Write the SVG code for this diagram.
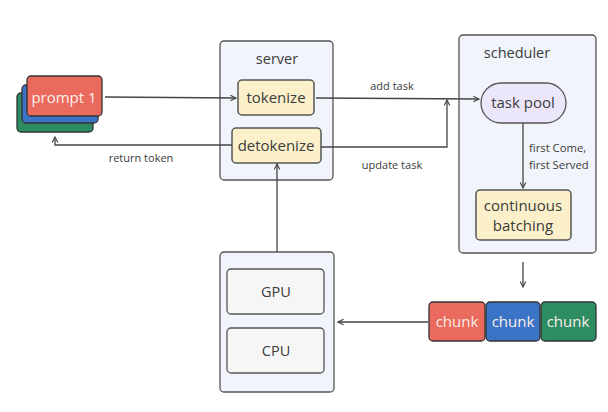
<svg xmlns="http://www.w3.org/2000/svg" width="608" height="412" viewBox="0 0 608 412">
<defs>
<marker id="arr" viewBox="0 0 10 10" refX="9" refY="5" markerWidth="7" markerHeight="7" orient="auto-start-reverse" markerUnits="userSpaceOnUse">
<path d="M1,1 L9,5 L1,9" fill="none" stroke="#444" stroke-width="1.6"/>
</marker>
<style>
text{font-family:"Open Sans","Noto Sans","Liberation Sans",sans-serif;fill:#3c3c3c}
.cont{fill:#f1f4fa;stroke:#555;stroke-width:1.3}
.yel{fill:#fbf0c9;stroke:#555;stroke-width:1.5}
.gray{fill:#f6f6f6;stroke:#555;stroke-width:1.3}
.lbl{font-size:14.5px;text-anchor:middle}
.small{font-size:11px;text-anchor:middle}
.node{font-size:15px;text-anchor:middle}
.white{fill:#fbeee8}
.line{fill:none;stroke:#444;stroke-width:1.3}
</style>
</defs>
<rect width="608" height="412" fill="#ffffff"/>
<g id="prompt">
<rect x="17" y="93" width="76" height="39" rx="4" fill="#2e8c62" stroke="#333" stroke-width="1.3"/>
<rect x="22" y="85" width="76" height="38" rx="4" fill="#3b74c6" stroke="#333" stroke-width="1.3"/>
<rect x="27" y="76" width="75" height="40" rx="4" fill="#ea6a5e" stroke="#333" stroke-width="1.3"/>
<text class="node white" x="64" y="103">prompt 1</text>
</g>
<g id="server">
<rect class="cont" x="220" y="41" width="113" height="139" rx="4"/>
<text class="lbl" x="277" y="64">server</text>
</g>
<g id="tokenize">
<rect class="yel" x="238" y="80" width="76" height="35" rx="4"/>
<text class="node" x="276" y="103">tokenize</text>
</g>
<g id="detokenize">
<rect class="yel" x="232" y="128" width="89" height="35" rx="4"/>
<text class="node" x="276" y="151">detokenize</text>
</g>
<g id="scheduler">
<rect class="cont" x="459" y="35" width="137" height="218" rx="4"/>
<text class="lbl" x="517" y="58">scheduler</text>
</g>
<g id="taskpool">
<rect x="481" y="83" width="85" height="40" rx="20" fill="#ece6fb" stroke="#555" stroke-width="1.3"/>
<text class="node" x="523" y="108">task pool</text>
</g>
<g id="batching">
<rect class="yel" x="476" y="190" width="95" height="50" rx="4"/>
<text class="node" x="523" y="211">continuous</text>
<text class="node" x="523" y="231">batching</text>
</g>
<g id="chunks">
<rect x="429" y="302" width="56" height="39" rx="4" fill="#ea6a5e" stroke="#333" stroke-width="1.3"/>
<rect x="486" y="302" width="54" height="39" rx="4" fill="#3b74c6" stroke="#333" stroke-width="1.3"/>
<rect x="541" y="302" width="55" height="39" rx="4" fill="#2e8c62" stroke="#333" stroke-width="1.3"/>
<text class="node white" x="457" y="327">chunk</text>
<text class="node white" x="513" y="327">chunk</text>
<text class="node white" x="568" y="327">chunk</text>
</g>
<g id="hardware">
<rect class="cont" x="220" y="252" width="114" height="140" rx="4"/>
</g>
<g id="gpu">
<rect class="gray" x="227" y="269" width="97" height="45" rx="4"/>
<text class="lbl" x="276" y="297">GPU</text>
</g>
<g id="cpu">
<rect class="gray" x="227" y="328" width="97" height="45" rx="4"/>
<text class="lbl" x="276" y="356">CPU</text>
</g>
<g id="connectors">
<path class="line" d="M105,97 L236,98" marker-end="url(#arr)"/>
<path class="line" d="M232,145 L55,145 L55,137" marker-end="url(#arr)"/>
<path class="line" d="M316,98 L479,99" marker-end="url(#arr)"/>
<path class="line" d="M321,147 L447,147 L447,100" marker-end="url(#arr)"/>
<path class="line" d="M277,252 L277,164" marker-end="url(#arr)"/>
<path class="line" d="M523,123 L523,188" marker-end="url(#arr)"/>
<path class="line" d="M523,262 L523,287" marker-end="url(#arr)"/>
<path class="line" d="M428,322 L338,322" marker-end="url(#arr)"/>
<text class="small" x="392" y="90">add task</text>
<text class="small" x="392" y="169">update task</text>
<text class="small" x="141" y="162">return token</text>
<text x="529" y="152" style="font-size:11.3px">first Come,</text>
<text x="529" y="169" style="font-size:11.3px">first Served</text>
</g>
</svg>
